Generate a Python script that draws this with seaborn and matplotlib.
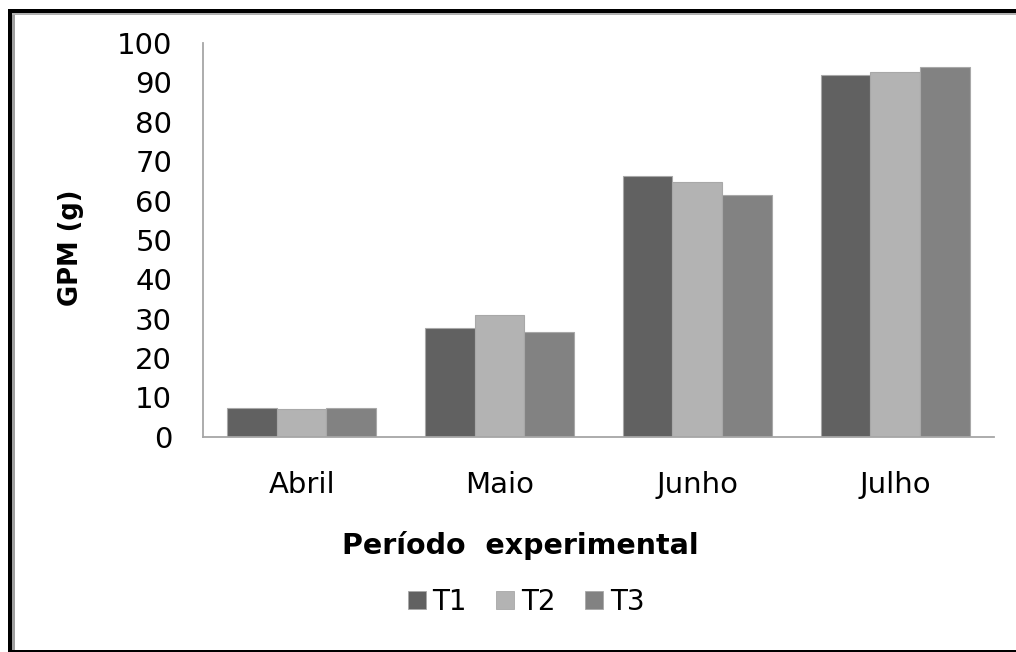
import matplotlib
matplotlib.use("Agg")
import matplotlib.pyplot as plt
from matplotlib.patches import Patch, Rectangle
import seaborn as sns
import pandas as pd

# Data: GPM (g) per month for each treatment
months = ["Abril", "Maio", "Junho", "Julho"]
treatments = ["T1", "T2", "T3"]
t1 = [7.2, 27.7, 66.2, 92.0]
t2 = [7.0, 30.9, 64.6, 92.6]
t3 = [7.2, 26.7, 61.4, 93.8]
colors = ["#616161", "#b3b3b3", "#828282"]
yticks = list(range(0, 101, 10))

df = pd.DataFrame({
    "mes": months * 3,
    "trat": ["T1"] * 4 + ["T2"] * 4 + ["T3"] * 4,
    "gpm": t1 + t2 + t3,
})

sns.set_theme(style="white")
plt.rcParams["font.family"] = ["DejaVu Sans"]
plt.rcParams["text.color"] = "black"

W, H = 1016, 652
fig = plt.figure(figsize=(W / 100, H / 100), dpi=100)
fig.patch.set_linewidth(0)
ax = fig.add_axes([0.1995, 0.3302, 0.7788, 0.6038])

sns.barplot(data=df, x="mes", y="gpm", hue="trat", order=months,
            hue_order=treatments, palette=colors, width=0.753,
            edgecolor="#a8a8a8", linewidth=0.8, saturation=1,
            errorbar=None, legend=False, ax=ax)

ax.set_ylim(0, 100)
ax.set_xlim(-0.5, 3.5)
ax.set_yticks(yticks)
ax.set_yticklabels([str(v) for v in yticks])
ax.tick_params(axis="y", length=0, pad=22, labelsize=21, labelcolor="black")
ax.tick_params(axis="x", length=0, pad=25, labelsize=21, labelcolor="black")
ax.set_xlabel("")
ax.set_ylabel("")
for side in ["top", "right"]:
    ax.spines[side].set_visible(False)
for side in ["left", "bottom"]:
    ax.spines[side].set_color("#a6a6a6")
    ax.spines[side].set_linewidth(1.3)

fig.text(70.8 / W, 1 - 247.5 / H, "GPM (g)", rotation=90,
         ha="center", va="center", fontsize=18.5, fontweight="bold",
         color="black")
fig.text(520 / W, 1 - 546 / H, "Período  experimental",
         ha="center", va="center", fontsize=20.5, fontweight="bold",
         color="black")

handles = [Patch(facecolor=c, edgecolor="#a8a8a8", linewidth=0.6) for c in colors]
fig.legend(handles, treatments, loc="center", ncol=3,
           bbox_to_anchor=(526 / W, 1 - 601.7 / H), frameon=False,
           fontsize=20, handlelength=0.65, handleheight=0.62,
           handletextpad=0.25, columnspacing=1.05, borderpad=0)


def frame_bar(x0, y0, x1, y1, color):
    # rectangle given in pixel coordinates from the top-left corner
    fig.add_artist(Rectangle((x0 / W, 1 - y1 / H), (x1 - x0) / W, (y1 - y0) / H,
                             transform=fig.transFigure, facecolor=color,
                             edgecolor="none", linewidth=0, zorder=5))


# Outer frame: left, top and bottom edges only
frame_bar(8, 9, 12, 652, "black")
frame_bar(12, 13, 15, 650, "#a0a0a0")
frame_bar(8, 9, 1016, 13, "black")
frame_bar(12, 13, 1016, 15, "#b0b0b0")
frame_bar(8, 650, 1016, 652, "black")

fig.savefig("out.png", dpi=100, facecolor="white", edgecolor="none")
